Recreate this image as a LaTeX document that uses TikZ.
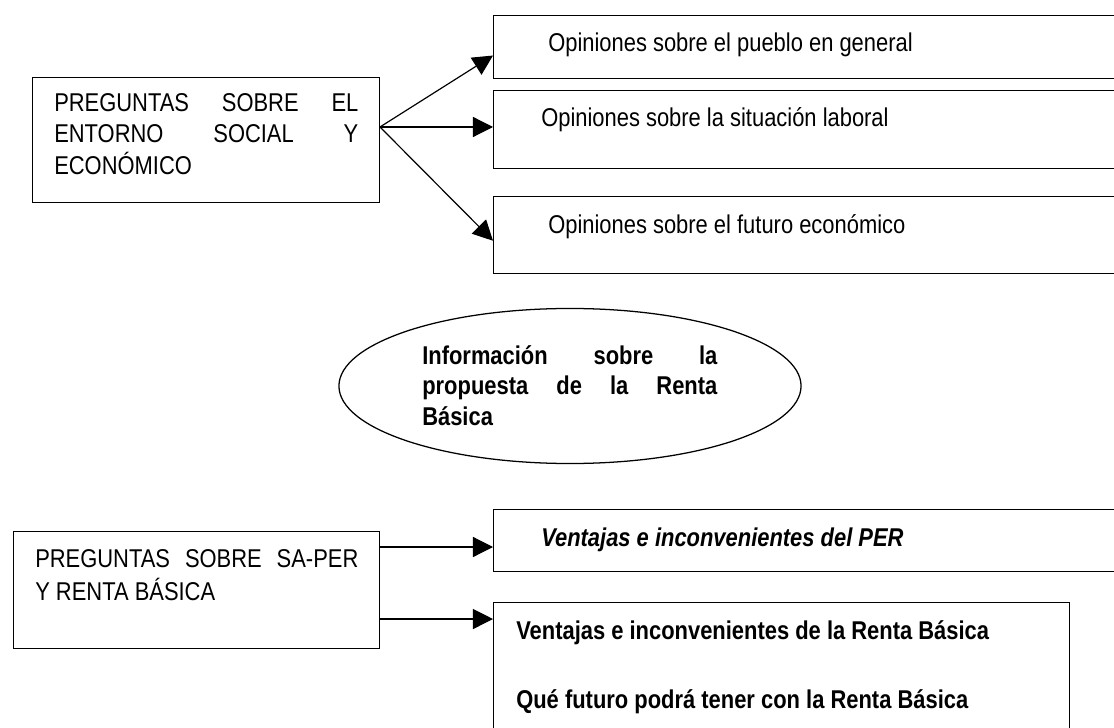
\documentclass[tikz,border=0pt]{standalone}
\usepackage{fontspec}
\setmainfont{Liberation Sans}[FakeStretch=0.852]
\usetikzlibrary{arrows.meta}
\usetikzlibrary{shapes.geometric}
\newcommand{\boxfont}{\fontsize{18.3pt}{22.5pt}\selectfont}
\newcommand{\ovalfont}{\fontsize{18.3pt}{21.7pt}\selectfont\bfseries}

\begin{document}
\begin{tikzpicture}[x=0.025cm,y=-0.025cm,
  box/.style={draw,line width=0.9pt,rectangle,anchor=north west,inner sep=0pt},
  txt/.style={anchor=base west,inner sep=0pt,font=\boxfont},
  arr/.style={line width=0.85pt,-{Triangle[length=0.5cm,width=0.5cm]}}]
\clip (0,0) rectangle (1114,728);
\fill[white] (0,0) rectangle (1114,728);

\node[box,minimum width=8.675cm,minimum height=3.125cm] (A) at (32,77) {};
\node[txt,anchor=north west,text width=7.6cm,align=justify] (tA) at (54,93) {PREGUNTAS SOBRE EL\linebreak ENTORNO SOCIAL Y\linebreak ECONÓMICO};

\node[box,minimum width=16cm,minimum height=1.575cm] (O1) at (493,15) {};
\node[txt] (t1) at (548,52) {Opiniones sobre el pueblo en general};
\node[box,minimum width=16cm,minimum height=1.95cm] (O2) at (493,90) {};
\node[txt] (t2) at (541,127) {Opiniones sobre la situación laboral};
\node[box,minimum width=16cm,minimum height=1.925cm] (O3) at (493,196) {};
\node[txt] (t3) at (548,234) {Opiniones sobre el futuro económico};

\coordinate (fork) at (380,127);
\draw[arr] (fork) -- ([yshift=-0.21cm]O1.west);
\draw[arr] (fork) -- (fork -| O2.west);
\draw[arr] (fork) -- ([yshift=-0.14cm]O3.west);

\node[draw,line width=0.9pt,ellipse,minimum width=11.55cm,minimum height=3.875cm] (E) at (570,386) {};
\node[txt,anchor=north west,font=\ovalfont,text width=7.375cm,align=justify] (tE) at (422,345) {Información sobre la\linebreak propuesta de la Renta\linebreak Básica};

\node[box,minimum width=9.15cm,minimum height=2.925cm] (B) at (13,531) {};
\node[txt] (tB1) at (35,568) {\makebox[8.075cm][s]{PREGUNTAS SOBRE SA-PER}};
\node[txt] (tB2) at (35,600) {Y RENTA BÁSICA};

\node[box,minimum width=16cm,minimum height=1.55cm] (PER) at (493,509) {};
\node[txt,font=\boxfont\bfseries\itshape] (tP) at (541,546) {Ventajas e inconvenientes del PER};
\node[box,minimum width=14.4cm,minimum height=4cm] (C) at (493,602) {};
\node[txt,font=\boxfont\bfseries] (tC1) at (516,639) {Ventajas e inconvenientes de la Renta Básica};
\node[txt,font=\boxfont\bfseries] (tC2) at (516,708) {Qué futuro podrá tener con la Renta Básica};

\coordinate (b1) at ([yshift=-0.4cm]B.north east);
\coordinate (b2) at ([yshift=-2.2cm]B.north east);
\draw[arr] (b1) -- (b1 -| PER.west);
\draw[arr] (b2) -- (b2 -| C.west);

\end{tikzpicture}
\end{document}
